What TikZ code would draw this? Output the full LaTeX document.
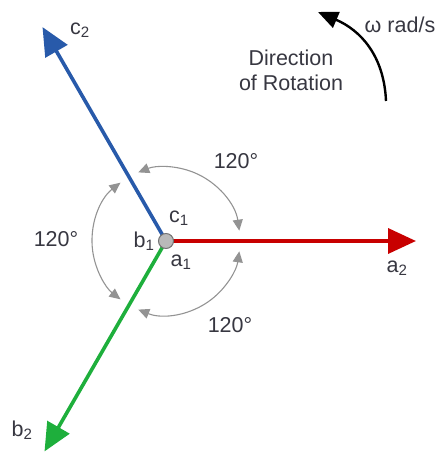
\documentclass[tikz,border=0pt]{standalone}
\usepackage{fontspec}
\setmainfont{Liberation Sans}
\usepackage{tikz}
\usetikzlibrary{arrows.meta,calc}

\definecolor{phasered}{RGB}{200,0,0}
\definecolor{phaseblue}{RGB}{40,90,170}
\definecolor{phasegreen}{RGB}{30,175,60}
\definecolor{txtgray}{RGB}{55,55,65}

\begin{document}
\begin{tikzpicture}[
  x=1pt,y=1pt,
  font=\fontsize{21.5}{25}\selectfont,
  every node/.append style={text=txtgray},
  phasor/.style={line width=3.6pt,-{Triangle[length=28pt,width=25pt]}},
  turn/.style={gray!85,line width=1.1pt,{Triangle[length=11pt,width=10pt]}-{Triangle[length=11pt,width=10pt]}},
  lbl/.style={inner sep=1pt}
]
\useasboundingbox (-166,-211) rectangle (281,241);
% centre and phasor tips
\coordinate (atip) at (0:250);
\coordinate (ctip) at (120:247);
\coordinate (btip) at (240:243);
\draw[phasor,phasered] (0,0) -- (atip);
\draw[phasor,phaseblue] (0,0) -- (ctip);
\draw[phasor,phasegreen] (0,0) -- (btip);
\node[circle,draw=gray!90!black,fill=gray!55,minimum size=15pt,inner sep=0pt,line width=1pt] (o) at (0,0) {};
% labels at the ends
\node[lbl] (a1) at (15,-21) {a\textsubscript{1}};
\node[lbl] (b1) at (-22,0) {b\textsubscript{1}};
\node[lbl] (c1) at (13,23) {c\textsubscript{1}};
\node[lbl] (a2) at (231,-27) {a\textsubscript{2}};
\node[lbl] (b2) at (-144,-189) {b\textsubscript{2}};
\node[lbl] (c2) at (-86,211) {c\textsubscript{2}};
% 120 degree arcs
\draw[turn] ([shift={(8:74)}]o.center) arc[start angle=8,end angle=112,radius=74];
\draw[turn] ([shift={(128:74)}]o.center) arc[start angle=128,end angle=232,radius=74];
\draw[turn] ([shift={(248:74)}]o.center) arc[start angle=248,end angle=352,radius=74];
\node[lbl] (ang1) at (70,80) {120°};
\node[lbl] (ang2) at (-110,2) {120°};
\node[lbl] (ang3) at (64,-84) {120°};
% rotation
\coordinate (rotstart) at (220,140);
\coordinate (rotend) at (152,229);
\draw[line width=2.4pt,-{Triangle[length=20pt,width=17pt]}] (rotstart) .. controls (218,186) and (194,211) .. (rotend);
\node[lbl] (omega) at (234,216) {ω rad/s};
\node[lbl,align=center] (dir) at (125,171) {Direction\\of Rotation};
\end{tikzpicture}
\end{document}
